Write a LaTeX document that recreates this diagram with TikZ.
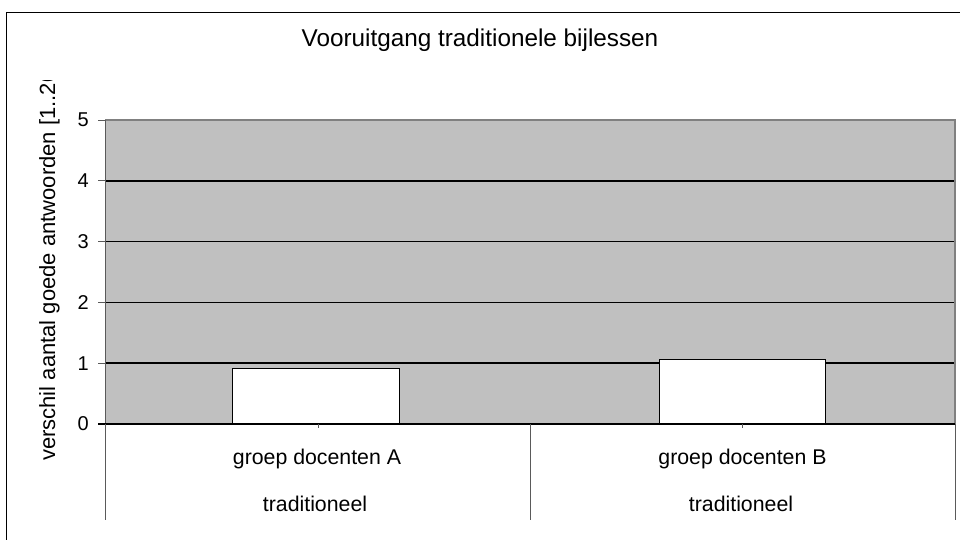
\documentclass[tikz,border=0pt]{standalone}
\usepackage{fontspec}
\setmainfont{Liberation Sans}
\usetikzlibrary{positioning}
\definecolor{plotgray}{RGB}{192,192,192}
\definecolor{edgegray}{RGB}{128,128,128}
\definecolor{axisgray}{RGB}{90,90,90}

\begin{document}
\begin{tikzpicture}[x=1pt,y=1pt,
    labeltext/.style={font=\fontsize{21.3}{24}\selectfont},
    axistext/.style={font=\fontsize{22}{24}\selectfont},
    ticktext/.style={font=\fontsize{20}{22}\selectfont},
    titletext/.style={font=\fontsize{24.3}{27}\selectfont},
    barbox/.style={draw=black,line width=0.8pt,fill=white},
    gridline/.style={black,line width=1.6pt},
    axisline/.style={axisgray,line width=1pt}]
        % Fix the page size
        \useasboundingbox[fill=white] (0,0) rectangle (960,-539);
        \clip (0,0) rectangle (960,-539);

        % Outer chart frame
        \draw[black,line width=1pt] (6.5,-12.5) rectangle (970,-550);

        % Define the corners of the plot area
        \coordinate (P0) at (105,-424);
        \coordinate (P1) at (955,-120);

        % Plot area with grid lines
        \fill[plotgray] (P0) rectangle (P1);
        \foreach \k in {1,...,4}
            \draw[gridline] (105,{-424+60.8*\k}) -- (955,{-424+60.8*\k});
        \draw[edgegray,line width=1.2pt] (105,-120) -- (955,-120) -- (955,-424);

        % Bars
        \draw[barbox] (232.5,-424) rectangle (399,{-424+60.8*0.92});
        \draw[barbox] (659,-424) rectangle (825,{-424+60.8*1.07});

        % Value axis with ticks and labels
        \draw[axisline] (105,-120) -- (105,-424);
        \foreach \k in {0,...,5} {
            \draw[axisline] (98,{-424+60.8*\k}) -- (105,{-424+60.8*\k});
            \node[ticktext, anchor=east, inner sep=0pt] (ytick\k) at (89,{-424+60.8*\k}) {\k};
        }

        % Category axis with separators
        \draw[black,line width=1.2pt] (98,-424) -- (955,-424);
        \foreach \x in {105,530.5,955}
            \draw[axisline] (\x,-424) -- (\x,-520);
        \foreach \x in {318,742.5}
            \draw[axisline] (\x,-424) -- (\x,-428);

        % Category labels
        \node[labeltext, anchor=base] (groepA) at (317,-464) {groep docenten A};
        \node[labeltext, anchor=base] (tradA) at (315,-511) {traditioneel};
        \node[labeltext, anchor=base] (groepB) at (742.5,-464) {groep docenten B};
        \node[labeltext, anchor=base] (tradB) at (741,-511) {traditioneel};

        % Title
        \node[titletext, anchor=base] (title) at (480,-46) {Vooruitgang traditionele bijlessen};

        % Axis title, cut off at the top as in the chart
        \begin{scope}
            \clip (0,-80) rectangle (100,-539);
            \node[axistext, rotate=90, anchor=base west, inner sep=0pt] (ytitle) at (55,-461) {verschil aantal goede antwoorden [1..20]};
        \end{scope}

    \end{tikzpicture}
\end{document}
